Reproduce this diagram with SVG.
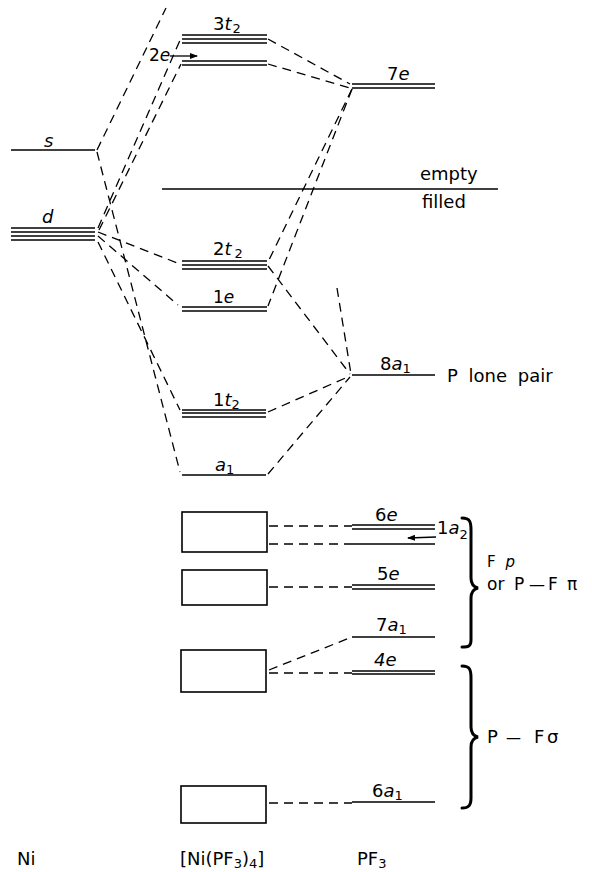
<svg xmlns="http://www.w3.org/2000/svg" width="592" height="872" viewBox="0 0 592 872">
<defs>
<style>
.lv{stroke:#000;stroke-width:1.7;fill:none}
.ds{stroke:#000;stroke-width:1.3;fill:none;stroke-dasharray:9 6}
.bx{fill:none;stroke:#000;stroke-width:1.6}
.br{fill:none;stroke:#000;stroke-width:3;stroke-linecap:round}
text{font-family:"DejaVu Sans","Liberation Sans",sans-serif;font-size:18px;fill:#000}
.it{font-style:italic}
.sb{font-size:13px}
</style>
<marker id="ah" markerWidth="8" markerHeight="6" refX="7" refY="3" orient="auto" markerUnits="userSpaceOnUse">
<path d="M0,0 L8,3 L0,6 z" fill="#000"/>
</marker>
</defs>
<rect width="592" height="872" fill="#fff"/>

<g id="connectors">
<line class="ds" x1="97" y1="150" x2="166" y2="8"/>
<line class="ds" x1="97" y1="152" x2="180" y2="472"/>
<line class="ds" x1="98" y1="228" x2="181" y2="38"/>
<line class="ds" x1="99" y1="230" x2="181" y2="64"/>
<line class="ds" x1="98" y1="232" x2="180" y2="264"/>
<line class="ds" x1="98" y1="236" x2="178" y2="305"/>
<line class="ds" x1="98" y1="242" x2="180" y2="410"/>
<line class="ds" x1="268" y1="39" x2="350" y2="84"/>
<line class="ds" x1="268" y1="64" x2="350" y2="88"/>
<line class="ds" x1="352" y1="89" x2="268" y2="262"/>
<line class="ds" x1="352" y1="89" x2="268" y2="306"/>
<line class="ds" x1="268" y1="266" x2="350" y2="374"/>
<line class="ds" x1="268" y1="412" x2="350" y2="376"/>
<line class="ds" x1="268" y1="474" x2="350" y2="377"/>
<line class="ds" x1="337" y1="288" x2="351" y2="374"/>
<line class="ds" x1="269" y1="526" x2="352" y2="526"/>
<line class="ds" x1="269" y1="544" x2="352" y2="544"/>
<line class="ds" x1="269" y1="587" x2="352" y2="587"/>
<line class="ds" x1="269" y1="670" x2="352" y2="637"/>
<line class="ds" x1="269" y1="673" x2="352" y2="673"/>
<line class="ds" x1="269" y1="803" x2="352" y2="803"/>
</g>

<g id="ni-s">
<line class="lv" x1="11" y1="150" x2="95" y2="150"/>
<text class="it" x="44" y="147">s</text>
</g>
<g id="ni-d">
<line class="lv" x1="11" y1="228" x2="95" y2="228"/>
<line class="lv" x1="11" y1="232" x2="95" y2="232"/>
<line class="lv" x1="11" y1="236" x2="95" y2="236"/>
<line class="lv" x1="11" y1="240" x2="95" y2="240"/>
<text class="it" x="42" y="223">d</text>
</g>

<g id="c-3t2">
<line class="lv" x1="182" y1="35" x2="267" y2="35"/>
<line class="lv" x1="182" y1="39" x2="267" y2="39"/>
<line class="lv" x1="182" y1="43" x2="267" y2="43"/>
<text x="213" y="30">3<tspan class="it">t</tspan><tspan class="sb" dx="1" dy="3">2</tspan></text>
</g>
<g id="c-2e">
<line class="lv" x1="182" y1="61" x2="267" y2="61"/>
<line class="lv" x1="182" y1="65" x2="267" y2="65"/>
<text x="149" y="61" style="font-size:17px">2<tspan class="it">e</tspan></text>
<line x1="170" y1="56" x2="197" y2="56" stroke="#000" stroke-width="1.3" marker-end="url(#ah)"/>
</g>
<g id="empty-filled">
<line class="lv" x1="162" y1="189" x2="498" y2="189"/>
<text x="420" y="180">empty</text>
<text x="422" y="208">filled</text>
</g>
<g id="c-2t2">
<line class="lv" x1="182" y1="261" x2="267" y2="261"/>
<line class="lv" x1="182" y1="265" x2="267" y2="265"/>
<line class="lv" x1="182" y1="269" x2="267" y2="269"/>
<text x="213" y="255">2<tspan class="it">t</tspan><tspan class="sb" dx="3" dy="3">2</tspan></text>
</g>
<g id="c-1e">
<line class="lv" x1="182" y1="307" x2="267" y2="307"/>
<line class="lv" x1="182" y1="311" x2="267" y2="311"/>
<text x="213" y="303" style="font-size:17px">1<tspan class="it">e</tspan></text>
</g>
<g id="c-1t2">
<line class="lv" x1="182" y1="410" x2="266" y2="410"/>
<line class="lv" x1="182" y1="413" x2="266" y2="413"/>
<line class="lv" x1="182" y1="417" x2="266" y2="417"/>
<text x="213" y="406">1<tspan class="it">t</tspan><tspan class="sb" dy="3">2</tspan></text>
</g>
<g id="c-a1">
<line class="lv" x1="182" y1="475" x2="266" y2="475"/>
<text x="215" y="471"><tspan class="it">a</tspan><tspan class="sb" dy="3">1</tspan></text>
</g>
<g id="c-box1"><rect class="bx" x="182" y="512" width="85" height="40"/></g>
<g id="c-box2"><rect class="bx" x="182" y="570" width="85" height="35"/></g>
<g id="c-box3"><rect class="bx" x="181" y="650" width="85" height="42"/></g>
<g id="c-box4"><rect class="bx" x="181" y="786" width="85" height="37"/></g>

<g id="p-7e">
<line class="lv" x1="352" y1="84" x2="435" y2="84"/>
<line class="lv" x1="352" y1="88" x2="435" y2="88"/>
<text x="387" y="80">7<tspan class="it">e</tspan></text>
</g>
<g id="p-8a1">
<line class="lv" x1="352" y1="375" x2="435" y2="375"/>
<text x="380" y="370">8<tspan class="it">a</tspan><tspan class="sb" dy="3">1</tspan></text>
<text x="447" y="382" word-spacing="5">P lone pair</text>
</g>
<g id="p-6e">
<line class="lv" x1="352" y1="525" x2="435" y2="525"/>
<line class="lv" x1="352" y1="529" x2="435" y2="529"/>
<text x="375" y="521">6<tspan class="it">e</tspan></text>
</g>
<g id="p-1a2">
<line class="lv" x1="352" y1="544" x2="435" y2="544"/>
<text x="437" y="534">1<tspan class="it">a</tspan><tspan class="sb" dy="5">2</tspan></text>
<line x1="436" y1="537" x2="408" y2="538" stroke="#000" stroke-width="1.3" marker-end="url(#ah)"/>
</g>
<g id="p-5e">
<line class="lv" x1="352" y1="585" x2="435" y2="585"/>
<line class="lv" x1="352" y1="589" x2="435" y2="589"/>
<text x="377" y="580">5<tspan class="it">e</tspan></text>
</g>
<g id="p-7a1">
<line class="lv" x1="352" y1="637" x2="435" y2="637"/>
<text x="376" y="631">7<tspan class="it">a</tspan><tspan class="sb" dy="3">1</tspan></text>
</g>
<g id="p-4e">
<line class="lv" x1="352" y1="671" x2="435" y2="671"/>
<line class="lv" x1="352" y1="674" x2="435" y2="674"/>
<text class="it" x="374" y="666">4e</text>
</g>
<g id="p-6a1">
<line class="lv" x1="352" y1="802" x2="435" y2="802"/>
<text x="372" y="797">6<tspan class="it">a</tspan><tspan class="sb" dy="3">1</tspan></text>
</g>

<g id="brace-pi">
<path class="br" d="M462 518 C470 518 471 522 471 530 L471 578 C471 584 474 587 478 588 C474 589 471 592 471 598 L471 640 C471 646 469 647 462 647"/>
<text x="487" y="567" style="font-size:15px">F <tspan class="it" dx="5">p</tspan></text>
<text y="590" style="font-size:17px"><tspan x="487">or</tspan><tspan x="514">P</tspan><tspan x="529" style="font-size:16px">—</tspan><tspan x="548">F</tspan><tspan x="567">π</tspan></text>
</g>
<g id="brace-sigma">
<path class="br" d="M462 666 C470 666 471 670 471 678 L471 727 C471 733 474 736 478 737 C474 738 471 741 471 747 L471 798 C471 805 469 808 462 808"/>
<text y="743"><tspan x="487">P</tspan><tspan x="506" style="font-size:15px">—</tspan><tspan x="534">F</tspan><tspan x="547">σ</tspan></text>
</g>

<g id="col-labels">
<text x="17" y="865">Ni</text>
<text x="180" y="865">[Ni(PF<tspan class="sb" dy="3">3</tspan><tspan dy="-3">)</tspan><tspan class="sb" dy="3">4</tspan><tspan dy="-3">]</tspan></text>
<text x="357" y="865">PF<tspan class="sb" dy="3">3</tspan></text>
</g>
</svg>
